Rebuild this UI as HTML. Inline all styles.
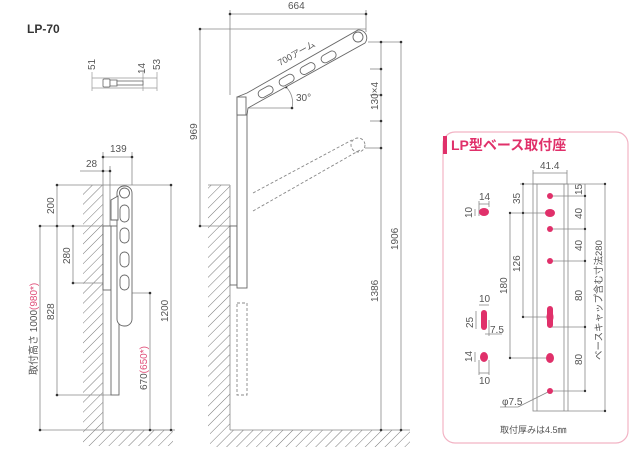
<!DOCTYPE html>
<html><head><meta charset="utf-8"><style>
html,body{margin:0;padding:0;background:#fff}
svg{display:block}
text{font-family:"Liberation Sans","Noto Sans CJK JP",sans-serif;font-size:10px;fill:#555}
</style></head><body>
<svg width="640" height="458" viewBox="0 0 640 458" xmlns="http://www.w3.org/2000/svg">
<defs>
<pattern id="h" patternUnits="userSpaceOnUse" width="7" height="7" patternTransform="rotate(45)">
<line x1="0" y1="0" x2="0" y2="7" stroke="#777" stroke-width="1"/>
</pattern>
</defs>
<g stroke="#999" stroke-width="0.7" fill="none">
<!-- top-left small -->
<line x1="92" y1="72" x2="92" y2="91"/><line x1="143" y1="72" x2="143" y2="91"/><line x1="157" y1="72" x2="157" y2="91"/>
<line x1="92" y1="78" x2="157" y2="78"/><line x1="92" y1="88" x2="157" y2="88"/>
</g>
<g stroke="#666" stroke-width="0.8" fill="#fff">
<rect x="103" y="79" width="7" height="8" rx="1"/><rect x="110" y="80" width="7" height="6"/><rect x="117" y="81" width="26" height="4"/>
</g>
<text x="27" y="33" style="font-size:12px;font-weight:bold;fill:#333">LP-70</text>
<text transform="translate(95,70) rotate(-90)">51</text>
<text transform="translate(145,74) rotate(-90)">14</text>
<text transform="translate(160,70) rotate(-90)">53</text>

<!-- LEFT: walls -->
<rect x="83" y="185" width="20" height="245" fill="url(#h)"/>
<rect x="83" y="430" width="90" height="16" fill="url(#h)"/>
<g stroke="#888" stroke-width="0.8" fill="none">
<line x1="103" y1="185" x2="103" y2="430"/><line x1="103" y1="430" x2="175" y2="430"/>
<!-- dims -->
<line x1="103" y1="157" x2="132" y2="157"/><line x1="103" y1="152" x2="103" y2="185"/><line x1="132" y1="152" x2="132" y2="185"/>
<line x1="80" y1="171" x2="110" y2="171"/><line x1="110" y1="166" x2="110" y2="226"/>
<line x1="57" y1="185" x2="171" y2="185"/><line x1="40" y1="226" x2="111" y2="226"/><line x1="73" y1="283" x2="111" y2="283"/>
<line x1="57" y1="395" x2="111" y2="395"/><line x1="132" y1="293" x2="150" y2="293"/><line x1="40" y1="430" x2="171" y2="430"/>
<line x1="57" y1="185" x2="57" y2="395"/><line x1="73" y1="226" x2="73" y2="283"/><line x1="40" y1="226" x2="40" y2="430"/>
<line x1="171" y1="185" x2="171" y2="430"/><line x1="150" y1="293" x2="150" y2="430"/>
</g>
<g fill="#333">
<circle cx="103" cy="157" r="1.3"/><circle cx="132" cy="157" r="1.3"/><circle cx="103" cy="171" r="1.3"/><circle cx="110" cy="171" r="1.3"/>
<circle cx="57" cy="185" r="1.3"/><circle cx="57" cy="226" r="1.3"/><circle cx="57" cy="395" r="1.3"/><circle cx="73" cy="226" r="1.3"/><circle cx="73" cy="283" r="1.3"/>
<circle cx="40" cy="226" r="1.3"/><circle cx="40" cy="430" r="1.3"/><circle cx="171" cy="185" r="1.3"/><circle cx="171" cy="430" r="1.3"/><circle cx="150" cy="293" r="1.3"/><circle cx="150" cy="430" r="1.3"/>
</g>
<g stroke="#666" stroke-width="0.9" fill="#fff">
<rect x="103" y="226" width="8" height="64"/>
<rect x="111" y="226" width="8" height="169"/>
<rect x="117" y="186" width="15" height="140" rx="7"/>
<circle cx="124.5" cy="193" r="5"/>
<rect x="120" y="205" width="9" height="17" rx="4.5"/><rect x="120" y="228" width="9" height="15" rx="4.5"/>
<rect x="120" y="252" width="9" height="15" rx="4.5"/><rect x="120" y="275" width="9" height="15" rx="4.5"/>
<path d="M111 200 L118 196 L118 220 L111 220 Z"/>
</g>
<text x="110" y="152">139</text>
<text x="86" y="167">28</text>
<text transform="translate(54,214) rotate(-90)">200</text>
<text transform="translate(70,264) rotate(-90)">280</text>
<text transform="translate(54,320) rotate(-90)">828</text>
<text transform="translate(37,375) rotate(-90)">取付高さ 1000<tspan fill="#e0507a">(980*)</tspan></text>
<text transform="translate(168,322) rotate(-90)">1200</text>
<text transform="translate(147,390) rotate(-90)">670<tspan fill="#e0507a">(650*)</tspan></text>

<!-- MIDDLE -->
<rect x="208" y="185" width="22" height="245" fill="url(#h)"/>
<rect x="210" y="430" width="200" height="17" fill="url(#h)"/>
<g stroke="#888" stroke-width="0.8" fill="none">
<line x1="230" y1="185" x2="230" y2="430"/><line x1="208" y1="185" x2="230" y2="185"/><line x1="230" y1="430" x2="410" y2="430"/>
<line x1="230" y1="14" x2="366" y2="14"/><line x1="230" y1="10" x2="230" y2="95"/><line x1="366" y1="10" x2="366" y2="32"/>
<line x1="200" y1="29" x2="366" y2="29"/><line x1="200" y1="29" x2="200" y2="226"/><line x1="200" y1="226" x2="237" y2="226"/>
<line x1="368" y1="42" x2="401" y2="42"/><line x1="381" y1="42" x2="381" y2="430"/><line x1="401" y1="42" x2="401" y2="430"/>
<line x1="370" y1="69" x2="381" y2="69"/><line x1="370" y1="95" x2="381" y2="95"/><line x1="370" y1="121" x2="381" y2="121"/><line x1="365" y1="148" x2="381" y2="148"/>
<line x1="248" y1="108" x2="292" y2="108"/>
<path d="M286 87 A22 22 0 0 1 292 108"/>
</g>
<g fill="#333">
<circle cx="230" cy="14" r="1.3"/><circle cx="366" cy="14" r="1.3"/><circle cx="200" cy="29" r="1.3"/><circle cx="200" cy="226" r="1.3"/>
<circle cx="381" cy="42" r="1.3"/><circle cx="401" cy="42" r="1.3"/><circle cx="381" cy="69" r="1.3"/><circle cx="381" cy="95" r="1.3"/><circle cx="381" cy="121" r="1.3"/><circle cx="381" cy="148" r="1.3"/>
<circle cx="381" cy="430" r="1.3"/><circle cx="401" cy="430" r="1.3"/><circle cx="292" cy="108" r="1.3"/><circle cx="286" cy="87" r="1.3"/>
</g>
<g stroke="#888" stroke-width="0.9" fill="none" stroke-dasharray="3,2">
<line x1="253" y1="193" x2="352" y2="140"/><line x1="253" y1="211" x2="360" y2="150"/>
<circle cx="358" cy="145" r="7"/><rect x="237" y="303" width="10" height="92"/>
</g>
<g stroke="#666" stroke-width="0.9" fill="#fff">
<rect x="230" y="226" width="7" height="59"/>
<rect x="237" y="97" width="10" height="191"/>
<path d="M237 97 L247 93 L358 30 A8 8 0 0 1 365 43 L248 108 L247 115 L237 115 Z"/>
<rect x="237" y="97" width="9" height="18"/>
<g transform="rotate(-29 305 70)">
<rect x="252" y="66" width="16" height="8" rx="4"/><rect x="276" y="66" width="16" height="8" rx="4"/><rect x="300" y="66" width="16" height="8" rx="4"/><rect x="324" y="66" width="16" height="8" rx="4"/>
</g>
<circle cx="358" cy="37" r="5"/>
</g>
<text x="288" y="9">664</text>
<text transform="translate(197,140) rotate(-90)">969</text>
<text transform="translate(280,66) rotate(-29)" style="font-size:9px">700アーム</text>
<text x="296" y="101">30°</text>
<text transform="translate(378,110) rotate(-90)">130×4</text>
<text transform="translate(398,250) rotate(-90)">1906</text>
<text transform="translate(378,302) rotate(-90)">1386</text>

<!-- RIGHT PANEL -->
<rect x="443" y="132" width="185" height="311" rx="12" fill="none" stroke="#f2b3c4" stroke-width="1.2"/>
<rect x="443" y="136" width="4" height="18" fill="#e0306a"/>
<text x="451" y="150" style="font-size:14px;font-weight:bold;fill:#e0306a">LP型ベース取付座</text>
<g stroke="#888" stroke-width="0.8" fill="none">
<rect x="533" y="184" width="35" height="227"/>
<line x1="537" y1="184" x2="537" y2="411"/><line x1="564" y1="184" x2="564" y2="411"/>
<line x1="533" y1="173" x2="567" y2="173"/><line x1="533" y1="170" x2="533" y2="184"/><line x1="567" y1="170" x2="567" y2="184"/>
<line x1="520" y1="184" x2="605" y2="184"/><line x1="568" y1="411" x2="605" y2="411"/><line x1="605" y1="184" x2="605" y2="411"/>
<line x1="585" y1="184" x2="585" y2="391"/>
<line x1="550" y1="196" x2="585" y2="196"/><line x1="550" y1="229" x2="585" y2="229"/><line x1="550" y1="261" x2="585" y2="261"/><line x1="550" y1="327" x2="585" y2="327"/><line x1="550" y1="391" x2="585" y2="391"/>
<line x1="523" y1="184" x2="523" y2="317"/><line x1="510" y1="213" x2="510" y2="358"/>
<line x1="510" y1="213" x2="550" y2="213"/><line x1="523" y1="317" x2="550" y2="317"/><line x1="510" y1="358" x2="550" y2="358"/>
<line x1="500" y1="407" x2="518" y2="407"/><line x1="518" y1="407" x2="550" y2="391"/>
<line x1="479" y1="204" x2="489" y2="204"/><line x1="479" y1="201" x2="479" y2="216"/><line x1="489" y1="201" x2="489" y2="207"/><line x1="475" y1="209" x2="475" y2="216"/>
<line x1="479" y1="305" x2="489" y2="305"/><line x1="476" y1="311" x2="476" y2="329"/><line x1="489" y1="320" x2="489" y2="336"/><line x1="485" y1="334" x2="502" y2="334"/>
<line x1="475" y1="352" x2="475" y2="362"/><line x1="479" y1="360" x2="479" y2="375"/><line x1="489" y1="360" x2="489" y2="375"/><line x1="479" y1="373" x2="489" y2="373"/>
</g>
<g fill="#333">
<circle cx="585" cy="196" r="1.2"/><circle cx="585" cy="229" r="1.2"/><circle cx="585" cy="261" r="1.2"/><circle cx="585" cy="327" r="1.2"/><circle cx="585" cy="391" r="1.2"/>
<circle cx="605" cy="184" r="1.2"/><circle cx="605" cy="411" r="1.2"/><circle cx="523" cy="184" r="1.2"/><circle cx="523" cy="213" r="1.2"/><circle cx="523" cy="317" r="1.2"/><circle cx="510" cy="213" r="1.2"/><circle cx="510" cy="358" r="1.2"/>
</g>
<g fill="#e0306a">
<circle cx="550" cy="196" r="3"/><ellipse cx="550" cy="213" rx="5" ry="4"/><circle cx="550" cy="229" r="3"/><circle cx="550" cy="261" r="3"/>
<path d="M547 309 A3 3 0 0 1 553 309 L553 314 Q554 317 553 320 L553 325 A3 3 0 0 1 547 325 L547 320 Q546 317 547 314 Z"/>
<ellipse cx="550" cy="358" rx="4" ry="5"/><circle cx="550" cy="391" r="3"/>
<ellipse cx="484" cy="212" rx="5" ry="4"/>
<path d="M481 313 A3 3 0 0 1 487 313 L487 327 A3 3 0 0 1 481 327 Z"/>
<ellipse cx="484" cy="357" rx="4" ry="5"/>
</g>
<text x="540" y="169">41.4</text>
<text x="479" y="200">14</text>
<text transform="translate(472,218) rotate(-90)">10</text>
<text x="479" y="302">10</text>
<text transform="translate(473,328) rotate(-90)">25</text>
<text x="490" y="333">7.5</text>
<text transform="translate(472,362) rotate(-90)">14</text>
<text x="479" y="384">10</text>
<text transform="translate(520,204) rotate(-90)">35</text>
<text transform="translate(520,272) rotate(-90)">126</text>
<text transform="translate(507,294) rotate(-90)">180</text>
<text transform="translate(582,195) rotate(-90)">15</text>
<text transform="translate(582,219) rotate(-90)">40</text>
<text transform="translate(582,251) rotate(-90)">40</text>
<text transform="translate(582,301) rotate(-90)">80</text>
<text transform="translate(582,365) rotate(-90)">80</text>
<text transform="translate(602,360) rotate(-90)" style="font-size:9.5px">ベースキャップ含む寸法280</text>
<text x="502" y="405">φ7.5</text>
<text x="500" y="433" style="font-size:9px">取付厚みは4.5㎜</text>
</svg>
</body></html>
